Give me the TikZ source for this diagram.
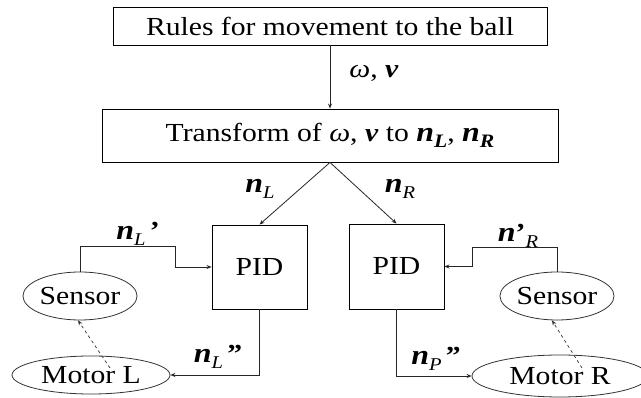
\documentclass[tikz,border=0pt]{standalone}
\usepackage{fontspec}
\setmainfont{Liberation Serif}[FakeStretch=1.14]
\usetikzlibrary{shapes.geometric, arrows.meta, calc, positioning}

\newcommand{\bn}{{\fontsize{28}{30}\selectfont\textbf{\textit{n}}}}
\newcommand{\lowsub}[1]{\raisebox{-6pt}{\fontsize{18}{20}\selectfont\textit{#1}}}
\newcommand{\boldsub}[1]{\raisebox{-6pt}{\fontsize{19}{20}\selectfont\textbf{\textit{#1}}}}

\begin{document}
\begin{tikzpicture}[
    x=1pt, y=-1pt,
    % boxes and ovals
    block/.style={
        rectangle, draw=black, line width=0.9pt, inner sep=0pt,
        font=\fontsize{26}{30}\selectfont
    },
    oval/.style={
        ellipse, draw=black!80, line width=0.8pt, inner sep=0pt,
        font=\fontsize{26}{30}\selectfont
    },
    lbl/.style={font=\fontsize{26}{30}\selectfont, inner sep=0pt},
    flow/.style={-{Stealth[length=5pt, width=4pt]}, line width=0.8pt, draw=black!85},
    sense/.style={-{Stealth[length=5pt, width=4pt]}, dashed, line width=0.7pt, draw=black!80}
]
\useasboundingbox (0,0) rectangle (641,398);

% 1. Upper blocks
\node[block, minimum width=434, minimum height=38] (rules) at (330,26)
    {Rules for movement to the ball};
\node[block, minimum width=456, minimum height=53] (transform) at (330,135.5)
    {Transform of \textit{ω}, \textbf{\textit{v}} to \bn\boldsub{L}, \bn\boldsub{R}};

% 2. Controllers
\node[block, minimum width=95, minimum height=84] (pidL) at (259.5,267) {PID};
\node[block, minimum width=95, minimum height=85] (pidR) at (396.5,266.5) {PID};

% 3. Sensors and motors
\node[oval, minimum width=114, minimum height=48] (sensorL) at (80,296) {Sensor};
\node[oval, minimum width=158, minimum height=38] (motorL) at (91,375) {Motor L};
\node[oval, minimum width=110, minimum height=48] (sensorR) at (557,296) {Sensor};
\node[oval, minimum width=176, minimum height=42] (motorR) at (560,376) {Motor R};

% 4. Signals
\draw[flow] (rules) -- (transform);
\node[lbl] (omv) at (374,73) {\textit{ω}, \textbf{\textit{v}}};
\draw[flow] (transform.south) -- (pidL.north);
\draw[flow] (transform.south) -- (pidR.north);
\node[lbl] (nL) at (260,189) {\bn\lowsub{L}};
\node[lbl] (nR) at (400,189) {\bn\lowsub{R}};

% feedback loops
\draw[flow] (sensorL.north) -- ++(0,-25) -| ($(pidL.west)+(-36,0)$) -- (pidL.west);
\draw[flow] (sensorR.north) -- ++(0,-24) -| ($(pidR.east)+(28,0)$) -- (pidR.east);
\node[lbl] (nLp) at (138,234) {\bn\lowsub{L}\,\textbf{’}};
\node[lbl] (nRp) at (518,236) {\bn\textbf{’}\lowsub{R}};

% motor commands
\draw[flow] (pidL.south) |- (motorL.east);
\draw[flow] (pidR.south) |- (motorR.west);
\node[lbl] (nLpp) at (218,357) {\bn\lowsub{L}\,\textbf{”}};
\node[lbl] (nPpp) at (436,359) {\bn\lowsub{P}\,\textbf{”}};

% motor to sensor
\draw[sense] ($(motorL.center)+(19,-7)$) -- ($(sensorL.south)+(-2,0)$);
\draw[sense] ($(motorR.center)+(22,-8)$) -- ($(sensorR.south)+(-5,0)$);

\end{tikzpicture}
\end{document}
